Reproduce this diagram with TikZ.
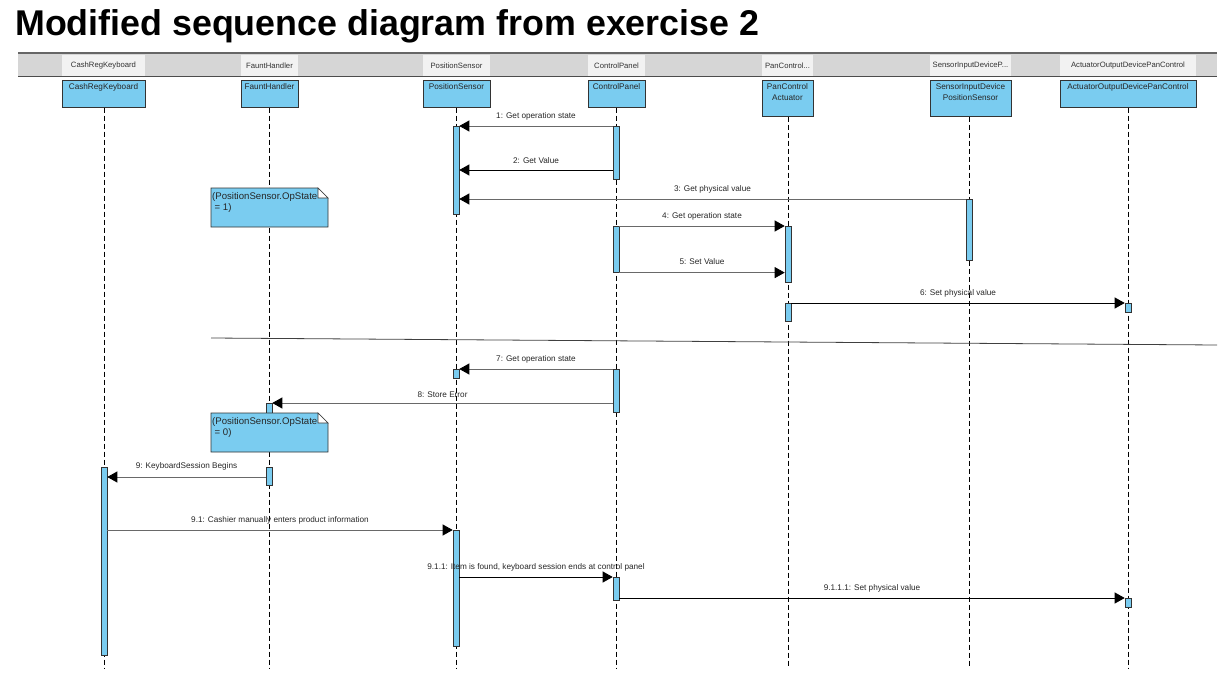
\documentclass[tikz,border=0pt]{standalone}
\usepackage{fontspec}
\setmainfont{Liberation Sans}
\usetikzlibrary{arrows.meta,calc}
\definecolor{actblue}{RGB}{122,204,240}
\definecolor{barGray}{RGB}{214,214,214}
\definecolor{cellGray}{RGB}{242,242,242}
\definecolor{lineGray}{RGB}{105,105,105}
\begin{document}
\begin{tikzpicture}[x=1pt,y=-1pt,
  headcell/.style={draw=none, fill=cellGray, minimum height=21pt, inner sep=0pt, anchor=north, font=\fontsize{7.7}{8}\selectfont, text=black!80},
  lifehead/.style={draw=black!80, fill=actblue, inner sep=0pt, anchor=north, line width=0.7pt},
  headtxt/.style={font=\fontsize{8.2}{11}\selectfont, align=center, inner sep=0pt, anchor=north, text=black!85},
  lifeline/.style={draw=black, dash pattern=on 5pt off 3pt, line width=0.7pt},
  act/.style={draw=black!80, fill=actblue, minimum width=6pt, inner sep=0pt, anchor=north, line width=0.6pt},
  msg/.style={draw=lineGray, line width=0.8pt, -{Triangle[length=10pt,width=11pt,color=black]}},
  msgdark/.style={msg, draw=black},
  lbl/.style={font=\fontsize{8.2}{9}\selectfont, inner sep=0pt, text=black!85},
  notebox/.style={draw=black!80, fill=actblue, line width=0.6pt},
  notetxt/.style={font=\fontsize{9.6}{11.5}\selectfont, align=left, inner sep=0pt, anchor=north west, text=black!85}
]
\useasboundingbox (0,0) rectangle (1229,698);

% title
\node[anchor=base west, inner sep=0pt, font=\fontsize{35.8}{40}\selectfont\bfseries] (title) at (15,36) {Modified sequence diagram from exercise 2};

% header bar
\coordinate (barTL) at (18,53);
\coordinate (barBR) at (1217,76);
\fill[barGray] (barTL) rectangle (barBR);
\draw[black!60, line width=2.2pt] (barTL) -- (barTL -| barBR);
\node[headcell, minimum width=83pt] (hcrk) at (103.5,55) {CashRegKeyboard};
\node[headcell, minimum width=57pt] (hfh) at (269.5,55) {FauntHandler};
\node[headcell, minimum width=67pt] (hps) at (456.5,55) {PositionSensor};
\node[headcell, minimum width=57pt] (hcp) at (616.5,55) {ControlPanel};
\node[headcell, minimum width=51pt] (hpc) at (787.5,55) {PanControl...};
\node[headcell, minimum width=81pt] (hsi) at (970.5,55) {SensorInputDeviceP...};
\node[headcell, minimum width=136pt] (hac) at (1128,55) {ActuatorOutputDevicePanControl};
\draw[black!70, line width=0.8pt] (barTL |- barBR) -- (barBR);

% lifeline heads
\node[lifehead, minimum width=83pt, minimum height=27pt] (crk) at (103.5,80) {};
\node[lifehead, minimum width=57pt, minimum height=27pt] (fh) at (269.5,80) {};
\node[lifehead, minimum width=67pt, minimum height=27pt] (ps) at (456.5,80) {};
\node[lifehead, minimum width=57pt, minimum height=27pt] (cp) at (616.5,80) {};
\node[lifehead, minimum width=51pt, minimum height=36pt] (pc) at (787.5,80) {};
\node[lifehead, minimum width=81pt, minimum height=36pt] (si) at (970.5,80) {};
\node[lifehead, minimum width=136pt, minimum height=27pt] (ac) at (1128,80) {};
\node[headtxt] (tcrk) at ([yshift=-3.5pt]crk.north) {CashRegKeyboard};
\node[headtxt] (tfh) at ([yshift=-3.5pt]fh.north) {FauntHandler};
\node[headtxt] (tps) at ([yshift=-3.5pt]ps.north) {PositionSensor};
\node[headtxt] (tcp) at ([yshift=-3.5pt]cp.north) {ControlPanel};
\node[headtxt] (tpc) at ([yshift=-3.5pt]pc.north) {PanControl\\Actuator};
\node[headtxt] (tsi) at ([yshift=-3.5pt]si.north) {SensorInputDevice\\PositionSensor};
\node[headtxt] (tac) at ([yshift=-3.5pt]ac.north) {ActuatorOutputDevicePanControl};

% lifelines
\coordinate (bottom) at (0,668);
\foreach \n/\x in {crk/104,fh/269,ps/456,cp/616,pc/788,si/969,ac/1128}{
  \draw[lifeline] (\x,0 |- \n.south) -- (\x,0 |- bottom);
}

% activation bars
\node[act, minimum height=88pt] (psA) at (456,126) {};
\node[act, minimum height=53pt] (cpA) at (616,126) {};
\node[act, minimum height=61pt] (siA) at (969,199) {};
\node[act, minimum height=46pt] (cpB) at (616,226) {};
\node[act, minimum height=56pt] (pcA) at (788,226) {};
\node[act, minimum height=18pt] (pcB) at (788,303) {};
\node[act, minimum height=9pt] (acA) at (1128,303) {};
\node[act, minimum height=9pt] (psB) at (456,369) {};
\node[act, minimum height=43pt] (cpC) at (616,369) {};
\node[act, minimum height=10pt] (fhA) at (269,403) {};
\node[act, minimum height=18pt] (fhB) at (269,467) {};
\node[act, minimum height=188pt] (crA) at (104,467) {};
\node[act, minimum height=116pt] (psC) at (456,530) {};
\node[act, minimum height=23pt] (cpD) at (616,577) {};
\node[act, minimum height=9pt] (acB) at (1128,598) {};

% messages
\coordinate (y2) at (0,170);
\coordinate (y9) at (0,477);
\draw[msg] (cpA.north west) -- node[lbl, above=5pt] {1: Get operation state} (psA.north east);
\draw[msgdark] (cpA.west |- y2) -- node[lbl, above=6pt] {2: Get Value} (psA.east |- y2);
\draw[msg] (siA.north west) -- node[lbl, above=5pt] {3: Get physical value} (psA.east |- siA.north);
\draw[msg] (cpB.north east) -- node[lbl, above=5pt] {4: Get operation state} (pcA.north west);
\draw[msg] (cpB.south east) -- node[lbl, above=8pt] {5: Set Value} (pcA.west |- cpB.south);
\draw[msgdark] (pcB.north east) -- node[lbl, above=5pt] {6: Set physical value} (acA.north west);
\draw[msg] (cpC.north west) -- node[lbl, above=5pt] {7: Get operation state} (psB.north east);
\draw[msg] (cpC.west |- fhA.north) -- node[lbl, above=5pt] {8: Store Error} (fhA.north east);
\draw[msg] (fhB.west |- y9) -- node[lbl, above=6pt] {9: KeyboardSession Begins} (crA.east |- y9);
\draw[msg] (crA.east |- psC.north) -- node[lbl, above=5pt] {9.1: Cashier manually enters product information} (psC.north west);
\draw[msgdark] (psC.east |- cpD.north) -- node[lbl, above=5pt] {9.1.1: Item is found, keyboard session ends at control panel} (cpD.north west);
\draw[msgdark] (cpD.east |- acB.north) -- node[lbl, above=5pt] {9.1.1.1: Set physical value} (acB.north west);

% separator
\coordinate (sepA) at (211,338);
\coordinate (sepB) at (1217,345);
\draw[black!75, line width=0.8pt] (sepA) -- (sepB);

% notes
\foreach \nm/\y/\v in {n1/188/1, n2/413/0}{
  \draw[notebox] (211,\y) -- (318,\y) -- (328,\y+10) -- (328,\y+39) -- (211,\y+39) -- cycle;
  \draw[fill=white, draw=black!80, line width=0.6pt] (318,\y) -- (318,\y+10) -- (328,\y+10) -- cycle;
  \node[notetxt] (\nm) at (212,\y+4) {(PositionSensor.OpState\\\hspace*{2.5pt}= \v)};
}
\end{tikzpicture}
\end{document}
